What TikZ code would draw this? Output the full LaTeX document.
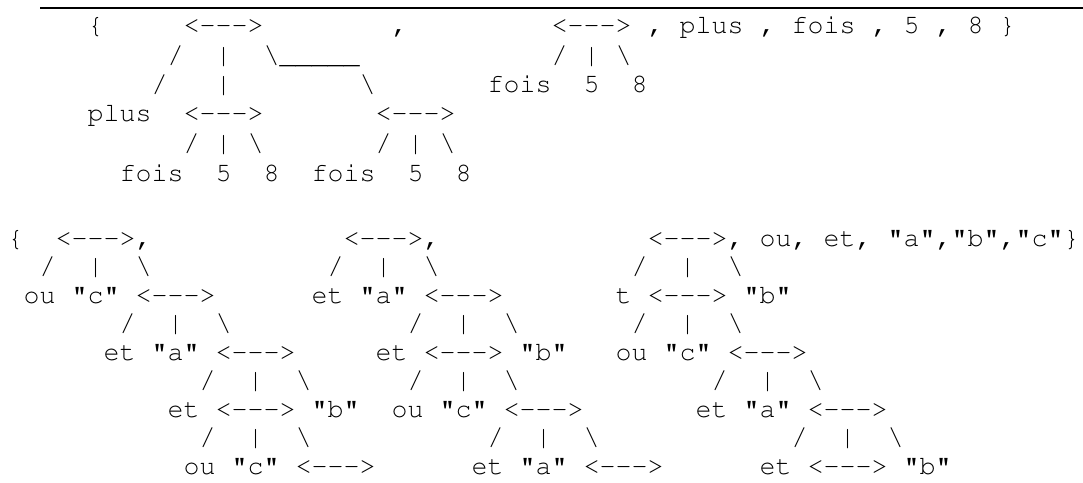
\documentclass[tikz,border=0pt]{standalone}
\usepackage[T1]{fontenc}
\frenchspacing
\tikzset{
  ascii/.style={anchor=base west, inner sep=0pt, outer sep=0pt,
    font=\fontencoding{T1}\fontfamily{pcr}\fontseries{m}\fontshape{n}\fontsize{26.67pt}{30pt}\selectfont,
    text=black},
  rule/.style={line width=2pt, black}
}
% one monospace cell is 16 units wide; #1 row name, #2 column, #3 baseline, #4 text
\newcommand\tok[4]{\node[ascii] (#1c#2) at ({#2*16+7.5},#3) {#4};}
\newcommand\bs{\textbackslash}
\newcommand\arr{<-{}-{}->}
\newcommand\q[1]{"{}#1{}"}
\begin{document}
\begin{tikzpicture}[x=1pt,y=-1pt]
\useasboundingbox (0,0) rectangle (1083,482);
\fill[white] (0,0) rectangle (1083,482);
\coordinate (ruleL) at (40,8.3);
\coordinate (ruleR) at (1083,8.3);
\draw[rule] (ruleL) -- (ruleR);

% ---- upper tree set ----
\tok{a}{5}{33.5}{\{}
\tok{a}{11}{33.5}{\arr}
\tok{a}{24}{33.5}{,}
\tok{a}{34}{33.5}{\arr~,~plus~,~fois~,~5~,~8~\}}

\tok{b}{10}{63}{/}
\tok{b}{13}{63}{|}
\tok{b}{16}{63}{\bs\_\_\_\_\_}
\tok{b}{34}{63}{/}
\tok{b}{36}{63}{|}
\tok{b}{38}{63}{\bs}

\tok{c}{9}{92.5}{/}
\tok{c}{13}{92.5}{|}
\tok{c}{22}{92.5}{\bs}
\tok{c}{30}{92.5}{fois}
\tok{c}{36}{92.5}{5}
\tok{c}{39}{92.5}{8}

\tok{d}{5}{121.5}{plus}
\tok{d}{11}{121.5}{\arr}
\tok{d}{23}{121.5}{\arr}

\tok{e}{11}{151.5}{/}
\tok{e}{13}{151.5}{|}
\tok{e}{15}{151.5}{\bs}
\tok{e}{23}{151.5}{/}
\tok{e}{25}{151.5}{|}
\tok{e}{27}{151.5}{\bs}

\tok{f}{7}{181.5}{fois}
\tok{f}{13}{181.5}{5}
\tok{f}{16}{181.5}{8}
\tok{f}{19}{181.5}{fois}
\tok{f}{25}{181.5}{5}
\tok{f}{28}{181.5}{8}

% ---- lower tree set ----
\tok{A}{0}{246}{\{}
\tok{A}{3}{246}{\arr,}
\tok{A}{21}{246}{\arr,}
\tok{A}{40}{246}{\arr,~ou,~et,~\q{a},\q{b},\q{c}\}}

\tok{B}{2}{274.5}{/}
\tok{B}{5}{274.5}{|}
\tok{B}{8}{274.5}{\bs}
\tok{B}{20}{274.5}{/}
\tok{B}{23}{274.5}{|}
\tok{B}{26}{274.5}{\bs}
\tok{B}{39}{274.5}{/}
\tok{B}{42}{274.5}{|}
\tok{B}{45}{274.5}{\bs}

\tok{C}{1}{303}{ou~\q{c}~\arr}
\tok{C}{19}{303}{et~\q{a}~\arr}
\tok{C}{38}{303}{t~\arr~\q{b}}

\tok{D}{7}{331.5}{/}
\tok{D}{10}{331.5}{|}
\tok{D}{13}{331.5}{\bs}
\tok{D}{25}{331.5}{/}
\tok{D}{28}{331.5}{|}
\tok{D}{31}{331.5}{\bs}
\tok{D}{39}{331.5}{/}
\tok{D}{42}{331.5}{|}
\tok{D}{45}{331.5}{\bs}

\tok{E}{6}{360}{et~\q{a}~\arr}
\tok{E}{23}{360}{et~\arr~\q{b}}
\tok{E}{38}{360}{ou~\q{c}~\arr}

\tok{F}{12}{388.5}{/}
\tok{F}{15}{388.5}{|}
\tok{F}{18}{388.5}{\bs}
\tok{F}{25}{388.5}{/}
\tok{F}{28}{388.5}{|}
\tok{F}{31}{388.5}{\bs}
\tok{F}{44}{388.5}{/}
\tok{F}{47}{388.5}{|}
\tok{F}{50}{388.5}{\bs}

\tok{G}{10}{417}{et~\arr~\q{b}}
\tok{G}{24}{417}{ou~\q{c}~\arr}
\tok{G}{43}{417}{et~\q{a}~\arr}

\tok{H}{12}{445.5}{/}
\tok{H}{15}{445.5}{|}
\tok{H}{18}{445.5}{\bs}
\tok{H}{30}{445.5}{/}
\tok{H}{33}{445.5}{|}
\tok{H}{36}{445.5}{\bs}
\tok{H}{49}{445.5}{/}
\tok{H}{52}{445.5}{|}
\tok{H}{55}{445.5}{\bs}

\tok{I}{11}{474}{ou~\q{c}~\arr}
\tok{I}{29}{474}{et~\q{a}~\arr}
\tok{I}{47}{474}{et~\arr~\q{b}}
\end{tikzpicture}
\end{document}
